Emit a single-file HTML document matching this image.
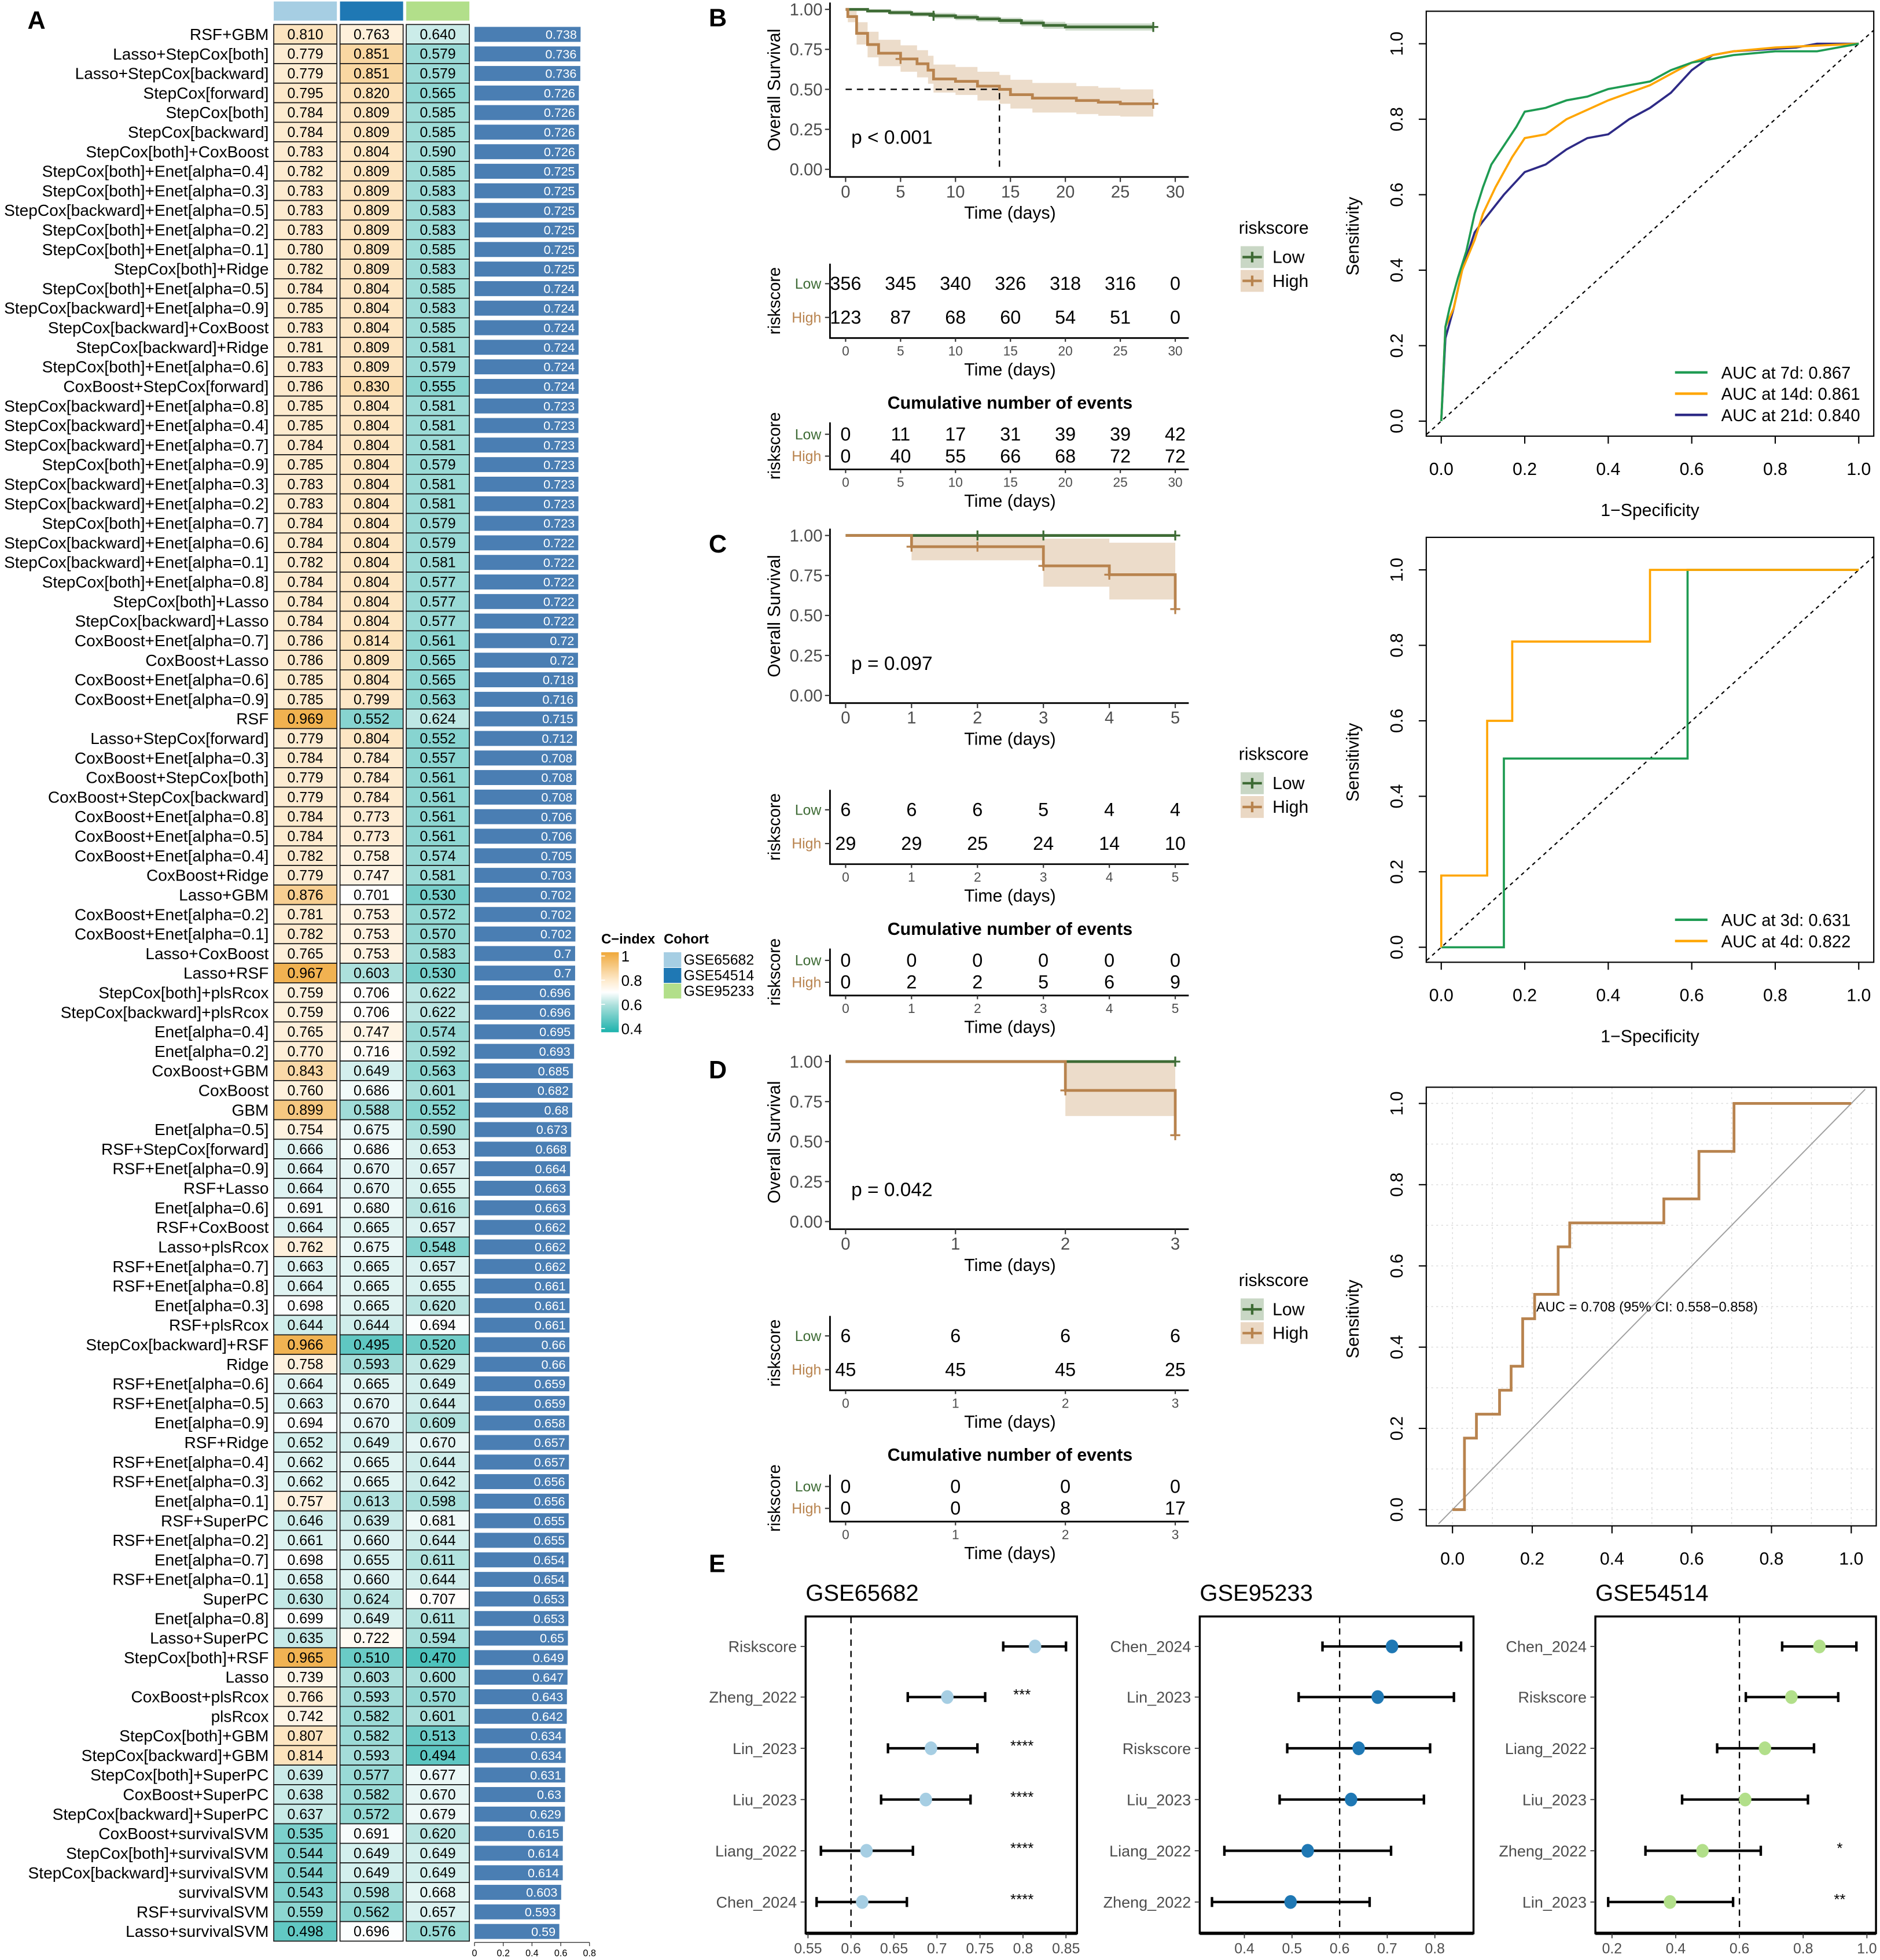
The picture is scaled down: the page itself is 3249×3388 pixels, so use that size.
<!DOCTYPE html>
<html><head><meta charset="utf-8"><title>Figure</title>
<style>html,body{margin:0;padding:0;background:#fff}svg{display:block;font-family:"Liberation Sans",Arial,sans-serif}</style>
</head><body>
<svg id="fig" xmlns="http://www.w3.org/2000/svg" width="3249" height="3388" viewBox="0 0 1504 1568.4" preserveAspectRatio="none">
<rect x="0" y="0" width="1504" height="1568.4" fill="#fff"/>
</svg>
<script>
// ===== Heatmap data (panel A) =====
const rowNames=["RSF+GBM","Lasso+StepCox[both]","Lasso+StepCox[backward]","StepCox[forward]","StepCox[both]","StepCox[backward]","StepCox[both]+CoxBoost","StepCox[both]+Enet[alpha=0.4]","StepCox[both]+Enet[alpha=0.3]","StepCox[backward]+Enet[alpha=0.5]","StepCox[both]+Enet[alpha=0.2]","StepCox[both]+Enet[alpha=0.1]","StepCox[both]+Ridge","StepCox[both]+Enet[alpha=0.5]","StepCox[backward]+Enet[alpha=0.9]","StepCox[backward]+CoxBoost","StepCox[backward]+Ridge","StepCox[both]+Enet[alpha=0.6]","CoxBoost+StepCox[forward]","StepCox[backward]+Enet[alpha=0.8]","StepCox[backward]+Enet[alpha=0.4]","StepCox[backward]+Enet[alpha=0.7]","StepCox[both]+Enet[alpha=0.9]","StepCox[backward]+Enet[alpha=0.3]","StepCox[backward]+Enet[alpha=0.2]","StepCox[both]+Enet[alpha=0.7]","StepCox[backward]+Enet[alpha=0.6]","StepCox[backward]+Enet[alpha=0.1]","StepCox[both]+Enet[alpha=0.8]","StepCox[both]+Lasso","StepCox[backward]+Lasso","CoxBoost+Enet[alpha=0.7]","CoxBoost+Lasso","CoxBoost+Enet[alpha=0.6]","CoxBoost+Enet[alpha=0.9]","RSF","Lasso+StepCox[forward]","CoxBoost+Enet[alpha=0.3]","CoxBoost+StepCox[both]","CoxBoost+StepCox[backward]","CoxBoost+Enet[alpha=0.8]","CoxBoost+Enet[alpha=0.5]","CoxBoost+Enet[alpha=0.4]","CoxBoost+Ridge","Lasso+GBM","CoxBoost+Enet[alpha=0.2]","CoxBoost+Enet[alpha=0.1]","Lasso+CoxBoost","Lasso+RSF","StepCox[both]+plsRcox","StepCox[backward]+plsRcox","Enet[alpha=0.4]","Enet[alpha=0.2]","CoxBoost+GBM","CoxBoost","GBM","Enet[alpha=0.5]","RSF+StepCox[forward]","RSF+Enet[alpha=0.9]","RSF+Lasso","Enet[alpha=0.6]","RSF+CoxBoost","Lasso+plsRcox","RSF+Enet[alpha=0.7]","RSF+Enet[alpha=0.8]","Enet[alpha=0.3]","RSF+plsRcox","StepCox[backward]+RSF","Ridge","RSF+Enet[alpha=0.6]","RSF+Enet[alpha=0.5]","Enet[alpha=0.9]","RSF+Ridge","RSF+Enet[alpha=0.4]","RSF+Enet[alpha=0.3]","Enet[alpha=0.1]","RSF+SuperPC","RSF+Enet[alpha=0.2]","Enet[alpha=0.7]","RSF+Enet[alpha=0.1]","SuperPC","Enet[alpha=0.8]","Lasso+SuperPC","StepCox[both]+RSF","Lasso","CoxBoost+plsRcox","plsRcox","StepCox[both]+GBM","StepCox[backward]+GBM","StepCox[both]+SuperPC","CoxBoost+SuperPC","StepCox[backward]+SuperPC","CoxBoost+survivalSVM","StepCox[both]+survivalSVM","StepCox[backward]+survivalSVM","survivalSVM","RSF+survivalSVM","Lasso+survivalSVM"];
const cindexGSE65682=[.810,.779,.779,.795,.784,.784,.783,.782,.783,.783,.783,.780,.782,.784,.785,.783,.781,.783,.786,.785,.785,.784,.785,.783,.783,.784,.784,.782,.784,.784,.784,.786,.786,.785,.785,.969,.779,.784,.779,.779,.784,.784,.782,.779,.876,.781,.782,.765,.967,.759,.759,.765,.770,.843,.760,.899,.754,.666,.664,.664,.691,.664,.762,.663,.664,.698,.644,.966,.758,.664,.663,.694,.652,.662,.662,.757,.646,.661,.698,.658,.630,.699,.635,.965,.739,.766,.742,.807,.814,.639,.638,.637,.535,.544,.544,.543,.559,.498];
const cindexGSE54514=[.763,.851,.851,.820,.809,.809,.804,.809,.809,.809,.809,.809,.809,.804,.804,.804,.809,.809,.830,.804,.804,.804,.804,.804,.804,.804,.804,.804,.804,.804,.804,.814,.809,.804,.799,.552,.804,.784,.784,.784,.773,.773,.758,.747,.701,.753,.753,.753,.603,.706,.706,.747,.716,.649,.686,.588,.675,.686,.670,.670,.680,.665,.675,.665,.665,.665,.644,.495,.593,.665,.670,.670,.649,.665,.665,.613,.639,.660,.655,.660,.624,.649,.722,.510,.603,.593,.582,.582,.593,.577,.582,.572,.691,.649,.649,.598,.562,.696];
const cindexGSE95233=[.640,.579,.579,.565,.585,.585,.590,.585,.583,.583,.583,.585,.583,.585,.583,.585,.581,.579,.555,.581,.581,.581,.579,.581,.581,.579,.579,.581,.577,.577,.577,.561,.565,.565,.563,.624,.552,.557,.561,.561,.561,.561,.574,.581,.530,.572,.570,.583,.530,.622,.622,.574,.592,.563,.601,.552,.590,.653,.657,.655,.616,.657,.548,.657,.655,.620,.694,.520,.629,.649,.644,.609,.670,.644,.642,.598,.681,.644,.611,.644,.707,.611,.594,.470,.600,.570,.601,.513,.494,.677,.670,.679,.620,.649,.649,.668,.657,.576];
const meanCindex=[.738,.736,.736,.726,.726,.726,.726,.725,.725,.725,.725,.725,.725,.724,.724,.724,.724,.724,.724,.723,.723,.723,.723,.723,.723,.723,.722,.722,.722,.722,.722,.72,.72,.718,.716,.715,.712,.708,.708,.708,.706,.706,.705,.703,.702,.702,.702,.7,.7,.696,.696,.695,.693,.685,.682,.68,.673,.668,.664,.663,.663,.662,.662,.662,.661,.661,.661,.66,.66,.659,.659,.658,.657,.657,.656,.656,.655,.655,.654,.654,.653,.653,.65,.649,.647,.643,.642,.634,.634,.631,.63,.629,.615,.614,.614,.603,.593,.59];
const barTicks=[0,0.2,0.4,0.6,0.8];
const cohortNames=["GSE65682","GSE54514","GSE95233"];
const legendTicks=[1,0.8,0.6,0.4];

// ===== KM data =====
const bLowT=[0,2,4,6,8,10,12,14,16,18,20], bLowS=[1,.99,.98,.97,.96,.95,.94,.93,.915,.9,.89];
const bLowU=[1,1,.995,.985,.978,.968,.958,.948,.935,.922,.912], bLowL=[1,.98,.965,.955,.943,.932,.922,.91,.895,.878,.868];
const bHighT=[0,.2,1,2,3,5,6.5,7.5,8,10,12,14,15,17,21,23,25];
const bHighS=[1,.955,.85,.78,.726,.69,.66,.62,.565,.55,.52,.50,.467,.445,.43,.42,.41];
const bHighU=[1,.99,.92,.86,.81,.775,.745,.71,.655,.64,.61,.59,.56,.54,.52,.51,.50];
const bHighL=[1,.92,.78,.70,.645,.61,.575,.535,.48,.465,.43,.41,.38,.355,.345,.335,.33];
const bRiskLow=[356,345,340,326,318,316,0], bRiskHigh=[123,87,68,60,54,51,0];
const bCumLow=[0,11,17,31,39,39,42], bCumHigh=[0,40,55,66,68,72,72];
const bTicks=[0,5,10,15,20,25,30];
const cLowT=[0], cLowS=[1], cLowU=[1], cLowL=[1];
const cHighT=[0,1,3,4,5], cHighS=[1,.93,.81,.755,.54], cHighU=[1,1,.98,.955,.955], cHighL=[1,.845,.68,.6,.6];
const cRiskLow=[6,6,6,5,4,4], cRiskHigh=[29,29,25,24,14,10];
const cCumLow=[0,0,0,0,0,0], cCumHigh=[0,2,2,5,6,9];
const cTicks=[0,1,2,3,4,5];
const dLowT=[0], dLowS=[1], dLowU=[1], dLowL=[1];
const dHighT=[0,2,3], dHighS=[1,.82,.54], dHighU=[1,1,1], dHighL=[1,.66,.66];
const dRiskLow=[6,6,6,6], dRiskHigh=[45,45,45,25];
const dCumLow=[0,0,0,0], dCumHigh=[0,0,8,17];
const dTicks=[0,1,2,3];
const kmYTicks=[0,0.25,0.5,0.75,1];

// ===== ROC data =====
const rocB7Fpr=[0,.01,.02,.04,.06,.08,.1,.12,.15,.18,.2,.25,.3,.35,.4,.5,.55,.6,.7,.8,.9,.95,1];
const rocB7Tpr=[0,.25,.3,.38,.45,.55,.62,.68,.73,.78,.82,.83,.85,.86,.88,.9,.93,.95,.97,.98,.98,.99,1];
const rocB14Fpr=[0,.01,.03,.05,.08,.1,.13,.17,.2,.25,.3,.4,.5,.55,.6,.65,.7,.8,1];
const rocB14Tpr=[0,.25,.3,.4,.48,.55,.62,.7,.75,.76,.8,.85,.89,.92,.95,.97,.98,.99,1];
const rocB21Fpr=[0,.01,.03,.05,.08,.1,.15,.2,.25,.3,.35,.4,.45,.5,.55,.6,.65,.7,.85,.9,1];
const rocB21Tpr=[0,.22,.3,.4,.5,.53,.6,.66,.68,.72,.75,.76,.8,.83,.87,.93,.97,.98,.99,1,1];
const rocC3Fpr=[0,.15,.15,.59,.59,1], rocC3Tpr=[0,0,.5,.5,1,1];
const rocC4Fpr=[0,0,.11,.11,.17,.17,.5,.5,1], rocC4Tpr=[0,.19,.19,.6,.6,.81,.81,1,1];
const rocDFpr=[0,.03,.03,.06,.06,.118,.118,.147,.147,.176,.176,.206,.206,.265,.265,.294,.294,.53,.53,.618,.618,.706,.706,1];
const rocDTpr=[0,0,.176,.176,.235,.235,.294,.294,.353,.353,.47,.47,.53,.53,.647,.647,.706,.706,.765,.765,.882,.882,1,1];
const rocTicks=[0,0.2,0.4,0.6,0.8,1];

// ===== Forest data =====
const f1Labels=["Riskscore","Zheng_2022","Lin_2023","Liu_2023","Liang_2022","Chen_2024"];
const f1Est=[.814,.712,.693,.687,.618,.613], f1Lo=[.777,.666,.643,.635,.565,.56], f1Hi=[.85,.756,.747,.739,.672,.665];
const f1Stars=["","***","****","****","****","****"];
const f1Ticks=[.55,.6,.65,.7,.75,.8,.85];
const f2Labels=["Chen_2024","Lin_2023","Riskscore","Liu_2023","Liang_2022","Zheng_2022"];
const f2Est=[.71,.68,.64,.624,.533,.497], f2Lo=[.564,.514,.49,.474,.358,.332], f2Hi=[.855,.84,.79,.777,.708,.663];
const f2Stars=["","","","","",""];
const f2Ticks=[.4,.5,.6,.7,.8];
const f3Labels=["Chen_2024","Riskscore","Liang_2022","Liu_2023","Zheng_2022","Lin_2023"];
const f3Est=[.851,.763,.68,.618,.484,.382], f3Lo=[.734,.62,.53,.42,.305,.188], f3Hi=[.967,.91,.834,.815,.667,.58];
const f3Stars=["","","","","*","**"];
const f3Ticks=[.2,.4,.6,.8,1.0];

const NS="http://www.w3.org/2000/svg";
const svg=document.getElementById('fig');
function mk(tag,attrs,parent){const e=document.createElementNS(NS,tag);for(const k in attrs)e.setAttribute(k,attrs[k]);(parent||svg).appendChild(e);return e;}
function tx(x,y,s,size,anchor,parent,extra){const e=mk('text',Object.assign({x:x,y:y,'font-size':size,'text-anchor':anchor||'start',fill:'#000'},extra||{}),parent);e.textContent=s;return e;}

// ---------- Panel A ----------
const gA=mk('g',{});


let tA=tx(22,23,'A',20,'start',gA,{'font-weight':'bold'});


const colX=[219,272,325], cellW=50.5, top0=19.6, rh=15.65;
const cohortCols=['#A6CEE3','#1F78B4','#B2DF8A'];
function hexToRgb(h){return [parseInt(h.substr(1,2),16),parseInt(h.substr(3,2),16),parseInt(h.substr(5,2),16)];}
const stops=[[0.4,'#1CB2AC'],[0.6,'#A9DFDB'],[0.7,'#FFFFFF'],[0.8,'#FDE7C6'],[1.0,'#EFA83A']];
function heatColor(v){v=Math.max(0.4,Math.min(1,v));for(let i=0;i<stops.length-1;i++){const a=stops[i],b=stops[i+1];if(v<=b[0]){const t=(v-a[0])/(b[0]-a[0]);const ca=hexToRgb(a[1]),cb=hexToRgb(b[1]);return 'rgb('+ca.map((c,j)=>Math.round(c+(cb[j]-c)*t)).join(',')+')';}}return stops[stops.length-1][1];}
const barX0=379.6, barScale=115;
const bx=v=>barX0+v*barScale;
cohortCols.forEach((c,j)=>{
  const h=mk('rect',{x:colX[j],y:1.2,width:cellW,height:15.3,fill:c},gA);
  
  
});
const cols=[cindexGSE65682,cindexGSE54514,cindexGSE95233];
rowNames.forEach((n,i)=>{
  const y=top0+i*rh;
  const lab=tx(215,y+rh/2+4.5,n,13,'end',gA);
  
  
  cols.forEach((arr,j)=>{
    const r=mk('rect',{x:colX[j],y:y,width:cellW,height:rh,fill:heatColor(arr[i]),stroke:'#1a1a1a','stroke-width':0.8},gA);
    
    
    const t=tx(colX[j]+cellW/2,y+rh/2+4,arr[i].toFixed(3),11.5,'middle',gA);
    
    
  });
  const b=mk('rect',{x:barX0,y:y+1.9,width:bx(meanCindex[i])-barX0,height:12,fill:'#4A7EB3'},gA);
  
  
  const bt=tx(bx(meanCindex[i])-3,y+rh/2+3.6,String(meanCindex[i]),10,'end',gA,{fill:'#fff'});
  
  
});
const axY=top0+rowNames.length*rh+1;
const bax=mk('line',{x1:bx(0),x2:bx(0.8),y1:axY,y2:axY,stroke:'#333','stroke-width':0.6},gA);


barTicks.forEach(v=>{
  const l=mk('line',{x1:bx(v),x2:bx(v),y1:axY,y2:axY+3,stroke:'#333','stroke-width':0.6},gA);
  
  
  const t=tx(bx(v),axY+11,String(v),7.5,'middle',gA);
  
  
});
// Legend
const lgC=tx(481,755,'C\u2212index',11,'start',gA,{'font-weight':'bold'});


const defs=mk('defs',{});
const grad=mk('linearGradient',{id:'cg',x1:0,y1:0,x2:0,y2:1},defs);
[[0,'#EFA83A'],[0.333,'#FDE7C6'],[0.5,'#FFFFFF'],[0.667,'#A9DFDB'],[1,'#1CB2AC']].forEach(s=>mk('stop',{offset:s[0],'stop-color':s[1]},grad));
const lgy=v=>765+(1-v)/0.6*58;
const gb=mk('rect',{x:481,y:762,width:14,height:64,fill:'url(#cg)'},gA);


legendTicks.forEach(v=>{
  const t=tx(497,lgy(v)+4.5,String(v),12,'start',gA);
  
  
  const l=mk('line',{x1:481,x2:484,y1:lgy(v),y2:lgy(v),stroke:'#fff','stroke-width':0.8},gA);
  
  
});
const lgH=tx(531,755,'Cohort',11,'start',gA,{'font-weight':'bold'});


cohortNames.forEach((n,j)=>{
  const r=mk('rect',{x:531,y:762+j*12.5,width:14,height:12,fill:cohortCols[j]},gA);
  
  
  const t=tx(547,772+j*12.5,n,11.5,'start',gA);
  
  
});

// ---------- KM panels ----------
const GREEN='#3E6B35', BROWN='#B8834E';
function stepPath(xs,ys,T,S,tEnd){let d='M'+xs(T[0])+','+ys(S[0]);for(let i=1;i<T.length;i++){d+=' H'+xs(T[i])+' V'+ys(S[i]);}if(tEnd!=null)d+=' H'+xs(tEnd);return d;}
function bandPath(xs,ys,T,U,L,tEnd){let d='M'+xs(T[0])+','+ys(U[0]);for(let i=1;i<T.length;i++){d+=' H'+xs(T[i])+' V'+ys(U[i]);}d+=' H'+xs(tEnd);d+=' V'+ys(L[L.length-1]);for(let i=T.length-1;i>0;i--){d+=' H'+xs(T[i])+' V'+ys(L[i-1]);}d+=' H'+xs(T[0])+' Z';return d;}
function km(p){
  const g=mk('g',{});
  
  
  const dy=p.dy, tmax=p.ticks[p.ticks.length-1];
  const xs=t=>676.5+t/tmax*263.7, ys=s=>dy+135.5-s*128;
  const lbl=tx(567,dy+21,p.id.toUpperCase(),20,'start',g,{'font-weight':'bold'});
  
  
  // bands
  [[p.low,GREEN,'#C9D7C5'],[p.high,BROWN,'#EAD8C4']].forEach((grp,k)=>{
    const b=mk('path',{d:bandPath(xs,ys,grp[0].T,grp[0].U,grp[0].L,grp[0].end),fill:grp[2],opacity:0.9},g);
    
    
  });
  [[p.low,GREEN],[p.high,BROWN]].forEach((grp,k)=>{
    const c=mk('path',{d:stepPath(xs,ys,grp[0].T,grp[0].S,grp[0].end),fill:'none',stroke:grp[1],'stroke-width':2.2},g);
    
    
    grp[0].cens.forEach(cc=>{
      const m=mk('path',{d:'M'+(xs(cc[0])-4)+','+ys(cc[1])+' h8 M'+xs(cc[0])+','+(ys(cc[1])-4)+' v8',stroke:grp[1],'stroke-width':1.5},g);
      
      
    });
  });
  if(p.median!=null){
    const md=mk('path',{d:'M'+xs(0)+','+ys(0.5)+' H'+xs(p.median)+' V'+ys(0),fill:'none',stroke:'#000','stroke-width':1.1,'stroke-dasharray':'5,4'},g);
    
    
  }
  const ax=mk('path',{d:'M664,'+(dy+2)+' V'+(dy+141.6)+' H951',fill:'none',stroke:'#000','stroke-width':1.3},g);
  
  
  kmYTicks.forEach(v=>{
    const l=mk('line',{x1:660,x2:664,y1:ys(v),y2:ys(v),stroke:'#333','stroke-width':1},g);
    
    
    const t=tx(658,ys(v)+4.8,v.toFixed(2),13.5,'end',g,{fill:'#4d4d4d'});
    
    
  });
  p.ticks.forEach(v=>{
    const l=mk('line',{x1:xs(v),x2:xs(v),y1:dy+141.6,y2:dy+145.6,stroke:'#333','stroke-width':1},g);
    
    
    const t=tx(xs(v),dy+158,String(v),13.5,'middle',g,{fill:'#4d4d4d'});
    
    
  });
  const xt=tx(808,dy+175,'Time (days)',14,'middle',g);
  
  
  const yt=tx(0,0,'Overall Survival',14,'middle',g,{transform:'translate(624,'+(dy+72)+') rotate(-90)'});
  
  
  const pv=tx(681,dy+115,p.ptext,15.5,'start',g);
  
  
  // risk tables
  [[dy+211,dy+270.5,dy+232,dy+259,p.riskLow,p.riskHigh,'number-at-risk'],[dy+338,dy+375.6,dy+352.5,dy+370,p.cumLow,p.cumHigh,'cumulative-events']].forEach(tb=>{
    const a=mk('path',{d:'M664,'+tb[0]+' V'+tb[1]+' H951',fill:'none',stroke:'#000','stroke-width':1.3},g);
    
    
    [[tb[2],'Low',GREEN,tb[4]],[tb[3],'High',BROWN,tb[5]]].forEach(rw=>{
      const gl=tx(657,rw[0]-1,rw[1],11.5,'end',g,{fill:rw[2]});
      
      
      const tk=mk('line',{x1:660,x2:664,y1:rw[0]-5,y2:rw[0]-5,stroke:'#333','stroke-width':1},g);
      
      
      rw[3].forEach((v,i)=>{
        const n=tx(xs(p.ticks[i]),rw[0],String(v),15,'middle',g);
        
        
      });
    });
    p.ticks.forEach(v=>{
      const l=mk('line',{x1:xs(v),x2:xs(v),y1:tb[1],y2:tb[1]+3,stroke:'#333','stroke-width':1},g);
      
      
      const t=tx(xs(v),tb[1]+14,String(v),10.5,'middle',g,{fill:'#4d4d4d'});
      
      
    });
    const tt=tx(808,tb[1]+30,'Time (days)',14,'middle',g);
    
    
    const ry=tx(0,0,'riskscore',13.5,'middle',g,{transform:'translate(624,'+((tb[0]+tb[1])/2)+') rotate(-90)'});
    
    
  });
  const ct=tx(808,dy+327,'Cumulative number of events',14,'middle',g,{'font-weight':'bold'});
  
  
  // legend
  const lt=tx(991,dy+187,'riskscore',14,'start',g);
  
  
  [['Low',GREEN,'#C9D7C5',dy+197],['High',BROWN,'#EAD8C4',dy+216]].forEach(k=>{
    const r=mk('rect',{x:992.5,y:k[3],width:18.5,height:17.5,fill:k[2]},g);
    
    
    const l=mk('path',{d:'M994,'+(k[3]+8.75)+' h15.5 M1001.75,'+(k[3]+4.5)+' v8.5',stroke:k[1],'stroke-width':2},g);
    
    
    const t=tx(1018,k[3]+13.5,k[0],14,'start',g);
    
    
  });
}
km({id:'b',dy:0,ticks:bTicks,ptext:'p < 0.001',median:14,
  low:{T:bLowT,S:bLowS,U:bLowU,L:bLowL,end:28,cens:[[8,.96],[28,.89]]},
  high:{T:bHighT,S:bHighS,U:bHighU,L:bHighL,end:28,cens:[[5,.69],[28,.41]]},
  riskLow:bRiskLow,riskHigh:bRiskHigh,cumLow:bCumLow,cumHigh:bCumHigh});
km({id:'c',dy:421,ticks:cTicks,ptext:'p = 0.097',median:null,
  low:{T:cLowT,S:cLowS,U:cLowU,L:cLowL,end:5,cens:[[2,1],[3,1],[5,1]]},
  high:{T:cHighT,S:cHighS,U:cHighU,L:cHighL,end:5,cens:[[1,.93],[2,.93],[3,.81],[4,.755],[5,.54]]},
  riskLow:cRiskLow,riskHigh:cRiskHigh,cumLow:cCumLow,cumHigh:cCumHigh});
km({id:'d',dy:842,ticks:dTicks,ptext:'p = 0.042',median:null,
  low:{T:dLowT,S:dLowS,U:dLowU,L:dLowL,end:3,cens:[[3,1]]},
  high:{T:dHighT,S:dHighS,U:dHighU,L:dHighL,end:3,cens:[[2,.82],[3,.54]]},
  riskLow:dRiskLow,riskHigh:dRiskHigh,cumLow:dCumLow,cumHigh:dCumHigh});

// ---------- ROC panels ----------
function roc(p){
  const g=mk('g',{});
  
  
  const xs=v=>p.x0+v*(p.x1-p.x0), ys=v=>p.y0-v*(p.y0-p.y1);
  if(p.grid){
    for(let k=0;k<=10;k++){
      const v=k/10;
      const gl=mk('path',{d:'M'+xs(v)+','+p.by0+' V'+p.by1+' M'+p.bx0+','+ys(v)+' H'+p.bx1,stroke:'#dcdcdc','stroke-width':0.7,'stroke-dasharray':'1.5,2.5'},g);
      
      
    }
  }
  const diag=mk('line',{x1:xs(-0.035),y1:ys(-0.035),x2:xs(1.035),y2:ys(1.035),stroke:p.grid?'#a0a0a0':'#000','stroke-width':p.grid?0.9:1,'stroke-dasharray':p.grid?'none':'3,3'},g);
  
  
  p.series.forEach(s=>{
    const pts=s.f.map((f,i)=>xs(f)+','+ys(s.t[i])).join(' ');
    const pl=mk('polyline',{points:pts,fill:'none',stroke:s.c,'stroke-width':p.grid?2.2:1.7},g);
    
    
  });
  const box=mk('rect',{x:p.bx0,y:p.by0,width:p.bx1-p.bx0,height:p.by1-p.by0,fill:'none',stroke:'#000','stroke-width':1},g);
  
  
  rocTicks.forEach(v=>{
    const a=mk('line',{x1:xs(v),x2:xs(v),y1:p.by1,y2:p.by1+6,stroke:'#000','stroke-width':1},g);
    
    
    const t=tx(xs(v),p.by1+31,v.toFixed(1),14,'middle',g);
    
    
    const b=mk('line',{x1:p.bx0-6,x2:p.bx0,y1:ys(v),y2:ys(v),stroke:'#000','stroke-width':1},g);
    
    
    const u=tx(0,0,v.toFixed(1),14,'middle',g,{transform:'translate('+(p.bx0-19)+','+ys(v)+') rotate(-90)'});
    
    
  });
  const yl=tx(0,0,'Sensitivity',14,'middle',g,{transform:'translate('+(p.bx0-54)+','+((p.by0+p.by1)/2+10)+') rotate(-90)'});
  
  
  if(p.xlab){
    const xl=tx(1320,p.by1+64,'1\u2212Specificity',14,'middle',g);
    
    
  }
  (p.legend||[]).forEach((L,i)=>{
    const ly=p.legY+i*17;
    const l=mk('line',{x1:1340,x2:1366,y1:ly,y2:ly,stroke:L[1],'stroke-width':2},g);
    
    
    const t=tx(1377,ly+5,L[0],13.5,'start',g);
    
    
  });
  if(p.note){
    const n=tx(xs(0.21),ys(0.5)+4,p.note,11,'start',g);
    
    
  }
}
roc({id:'b',bx0:1141,bx1:1499,by0:9,by1:349,x0:1153,x1:1487,y0:337,y1:35,xlab:true,legY:298,
  series:[{f:rocB21Fpr,t:rocB21Tpr,c:'#2E2A86'},{f:rocB14Fpr,t:rocB14Tpr,c:'#FFA500'},{f:rocB7Fpr,t:rocB7Tpr,c:'#1E9B52'}],
  legend:[['AUC at 7d: 0.867','#1E9B52'],['AUC at 14d: 0.861','#FFA500'],['AUC at 21d: 0.840','#2E2A86']]});
roc({id:'c',bx0:1141,bx1:1499,by0:430,by1:770,x0:1153,x1:1487,y0:758,y1:456,xlab:true,legY:736,
  series:[{f:rocC3Fpr,t:rocC3Tpr,c:'#1E9B52'},{f:rocC4Fpr,t:rocC4Tpr,c:'#FFA500'}],
  legend:[['AUC at 3d: 0.631','#1E9B52'],['AUC at 4d: 0.822','#FFA500']]});
roc({id:'d',bx0:1141,bx1:1501,by0:870,by1:1221,x0:1162,x1:1481,y0:1208,y1:883,grid:true,xlab:false,
  series:[{f:rocDFpr,t:rocDTpr,c:BROWN}],note:'AUC = 0.708 (95% CI: 0.558\u22120.858)'});

// ---------- Panel E forest plots ----------
const eL=tx(567,1258,'E',20,'start',null,{'font-weight':'bold'});


const rowYs=[1317.5,1358,1399,1440,1481,1522];
function forest(p){
  const g=mk('g',{});
  
  
  const xs=v=>p.ax+(v-p.av)*p.k;
  const tt=tx(p.bx0,1281,p.title,18.5,'start',g);
  
  
  const box=mk('rect',{x:p.bx0,y:1293.5,width:p.bx1-p.bx0,height:1547-1293.5,fill:'none',stroke:'#000','stroke-width':1.6},g);
  
  
  const bl=mk('line',{x1:p.bx0,x2:p.bx1,y1:1547,y2:1547,stroke:'#000','stroke-width':2.6},g);
  
  
  const ref=mk('line',{x1:xs(0.6),x2:xs(0.6),y1:1294,y2:1547,stroke:'#000','stroke-width':1.1,'stroke-dasharray':'5,4'},g);
  
  
  p.ticks.forEach(v=>{
    const l=mk('line',{x1:xs(v),x2:xs(v),y1:1547,y2:1551,stroke:'#333','stroke-width':0.8},g);
    
    
    const t=tx(xs(v),1563,(v===1?'1.0':String(v)),11.5,'middle',g,{fill:'#4d4d4d'});
    
    
  });
  p.labels.forEach((n,i)=>{
    const y=rowYs[i];
    const t=tx(p.bx0-7,y+4.5,n,12.5,'end',g,{fill:'#4d4d4d'});
    
    
    const tk=mk('line',{x1:p.bx0-4,x2:p.bx0,y1:y,y2:y,stroke:'#333','stroke-width':0.8},g);
    
    
    const ci=mk('path',{d:'M'+xs(p.lo[i])+','+(y-4)+' v8 M'+xs(p.lo[i])+','+y+' H'+xs(p.hi[i])+' M'+xs(p.hi[i])+','+(y-4)+' v8',stroke:'#000','stroke-width':2,fill:'none'},g);
    
    
    const c=mk('ellipse',{cx:xs(p.est[i]),cy:y,rx:5,ry:5.5,fill:p.color},g);
    
    
    if(p.stars[i]){
      const s=tx(p.starX,y+2,p.stars[i],12,'middle',g);
      
      
    }
  });
}
forest({title:'GSE65682',bx0:644.5,bx1:861.6,ax:646.4,av:.55,k:688,ticks:f1Ticks,labels:f1Labels,est:f1Est,lo:f1Lo,hi:f1Hi,stars:f1Stars,starX:817.6,color:'#A6CEE3'});
forest({title:'GSE95233',bx0:959.8,bx1:1178.8,ax:995.5,av:.4,k:381,ticks:f2Ticks,labels:f2Labels,est:f2Est,lo:f2Lo,hi:f2Hi,stars:f2Stars,starX:1140,color:'#1F78B4'});
forest({title:'GSE54514',bx0:1276.3,bx1:1500.8,ax:1289.6,av:.2,k:254.9,ticks:f3Ticks,labels:f3Labels,est:f3Est,lo:f3Lo,hi:f3Hi,stars:f3Stars,starX:1471.8,color:'#B2DF8A'});
</script>
</body></html>
